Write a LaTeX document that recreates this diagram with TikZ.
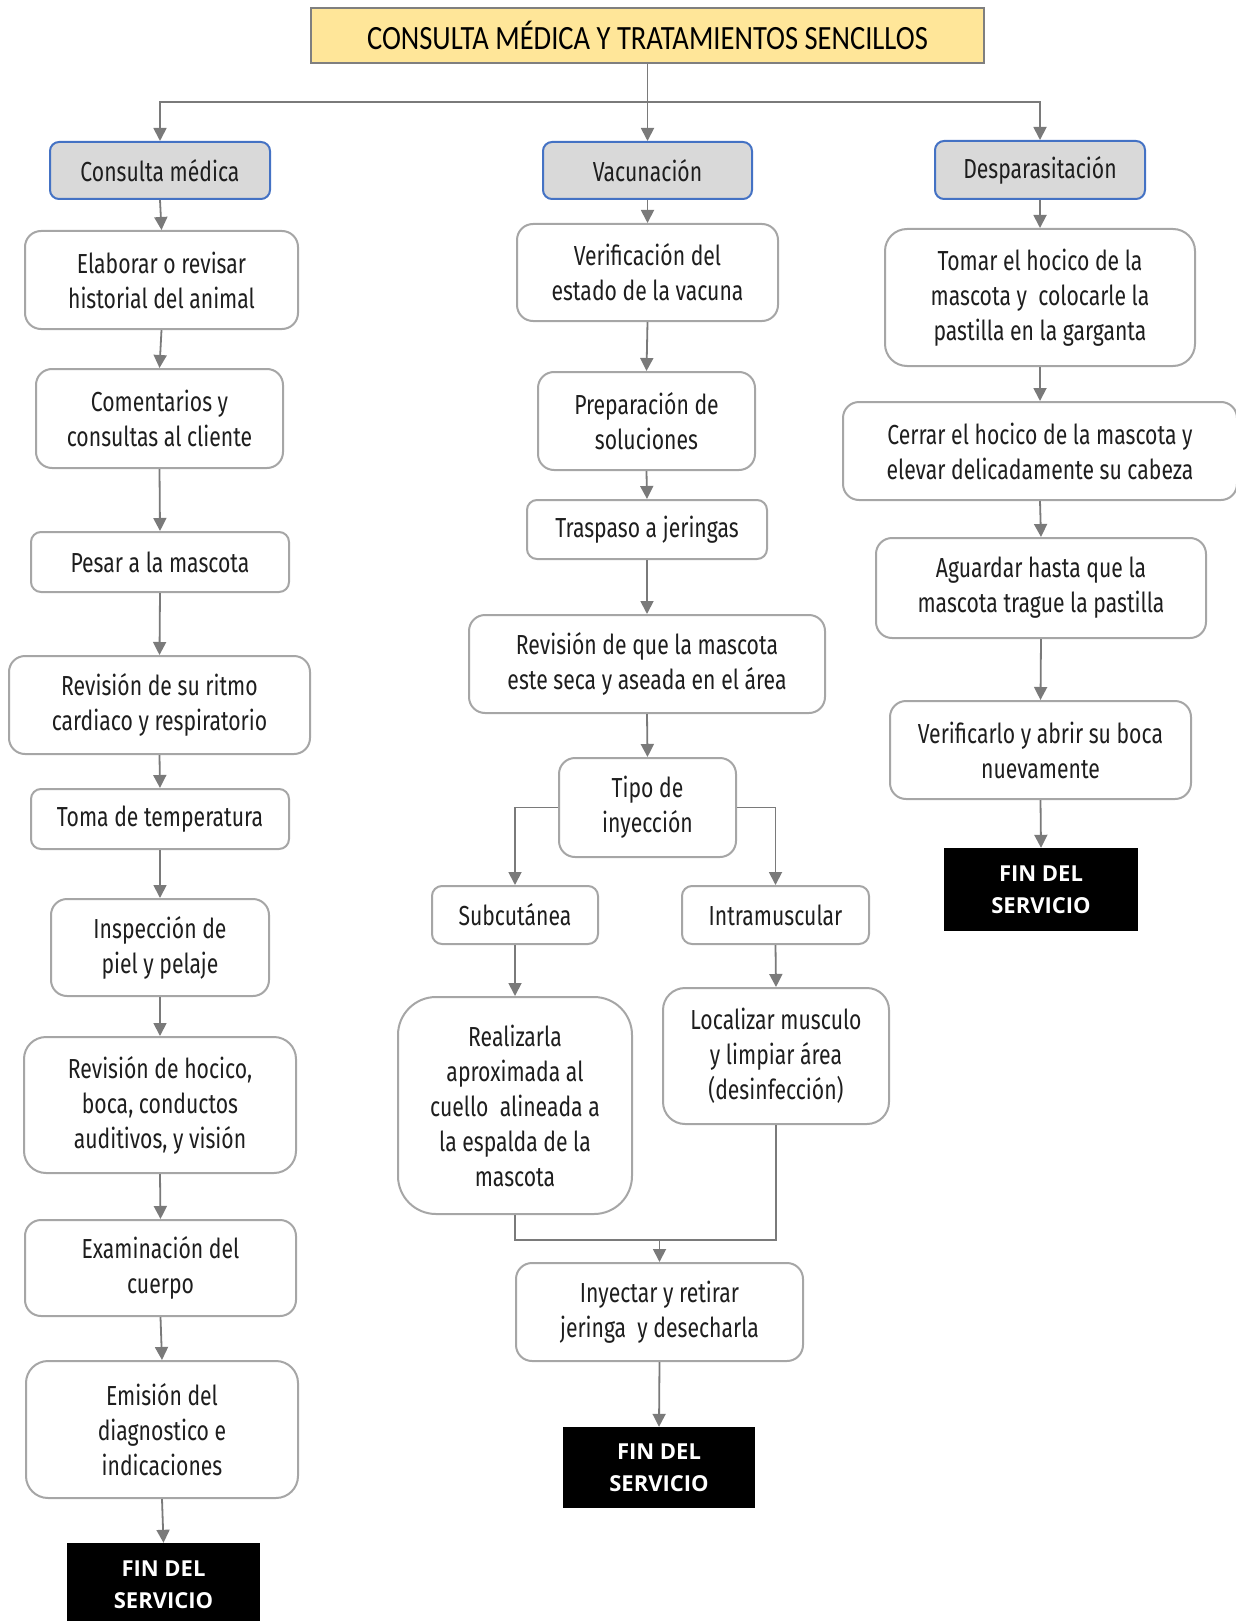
\documentclass[tikz,border=0pt]{standalone}
\usepackage{fontspec}
\setmainfont{Fira Sans}[FakeStretch=0.77]
\newfontfamily\titlefont{Carlito}[FakeStretch=0.84]
\newfontfamily\finfont{Open Sans}
\usetikzlibrary{arrows.meta}
\definecolor{boxline}{HTML}{A6A6A6}
\definecolor{hdrblue}{HTML}{4472C4}
\definecolor{hdrgray}{HTML}{D9D9D9}
\definecolor{titlefill}{HTML}{FFE699}
\definecolor{titleline}{HTML}{7F7F7F}
\definecolor{connc}{HTML}{7A7A7A}
\definecolor{txt}{HTML}{1E1E1E}
\tikzset{
  box/.style={draw=boxline, line width=2pt, rounded corners=#1, fill=white, align=center,
    inner sep=0pt, text=txt, font=\fontsize{27.5}{35}\selectfont},
  box/.default=16pt,
  hdr/.style={draw=hdrblue, line width=2pt, rounded corners=9pt, fill=hdrgray, align=center,
    inner sep=0pt, text=txt, font=\fontsize{27.5}{35}\selectfont},
  fin/.style={fill=black, align=center, inner sep=0pt, text=white,
    font=\finfont\bfseries\fontsize{22}{32}\selectfont},
  ttl/.style={fill=titlefill, draw=titleline, line width=2pt, align=center, inner sep=0pt,
    text=black, font=\titlefont\fontsize{34}{40}\selectfont},
  conn/.style={draw=connc, line width=1.8pt, -{Triangle[width=13pt,length=13pt]}},
  plain/.style={draw=connc, line width=1.8pt}
}
\begin{document}
\begin{tikzpicture}[x=1pt,y=-1pt]
\useasboundingbox (0,0) rectangle (1235,1621);
% title
\node[ttl, minimum width=673pt, minimum height=55pt] (T) at (647.5,35.5) {CONSULTA MÉDICA Y TRATAMIENTOS SENCILLOS};
% headers
\node[hdr, minimum width=220pt, minimum height=57pt] (H1) at (160,170.5) {Consulta médica};
\node[hdr, minimum width=209pt, minimum height=57pt] (H2) at (647.5,170.5) {Vacunación};
\node[hdr, minimum width=210pt, minimum height=58pt] (H3) at (1040,170) {Desparasitación};
% left column
\node[box, minimum width=273pt, minimum height=98pt] (L1) at (161.5,280) {Elaborar o revisar\\historial del animal};
\node[box, minimum width=247pt, minimum height=99pt] (L2) at (159.5,418.5) {Comentarios y\\consultas al cliente};
\node[box=10pt, minimum width=258pt, minimum height=60pt] (L3) at (160,562) {Pesar a la mascota};
\node[box, minimum width=301pt, minimum height=98pt] (L4) at (159.5,705) {Revisión de su ritmo\\cardiaco y respiratorio};
\node[box=10pt, minimum width=258pt, minimum height=60pt] (L5) at (160,819) {Toma de temperatura};
\node[box, minimum width=218pt, minimum height=97pt] (L6) at (160,947.5) {Inspección de\\piel y pelaje};
\node[box=22pt, minimum width=272pt, minimum height=136pt] (L7) at (160,1105) {Revisión de hocico,\\boca, conductos\\auditivos, y visión};
\node[box, minimum width=271pt, minimum height=96pt] (L8) at (160.5,1268) {Examinación del\\cuerpo};
\node[box=22pt, minimum width=272pt, minimum height=137pt] (L9) at (162,1429.5) {Emisión del\\diagnostico e\\indicaciones};
\node[fin, minimum width=193pt, minimum height=83pt] (LF) at (163.5,1584.5) {FIN DEL\\SERVICIO};
% center column
\node[box, minimum width=261pt, minimum height=97pt] (C1) at (647.5,272.5) {Verificación del\\estado de la vacuna};
\node[box, minimum width=217pt, minimum height=98pt] (C2) at (646.5,421) {Preparación de\\soluciones};
\node[box=10pt, minimum width=240pt, minimum height=59pt] (C3) at (647,529.5) {Traspaso a jeringas};
\node[box, minimum width=356pt, minimum height=98pt] (C4) at (647,664) {Revisión de que la mascota\\este seca y aseada en el área};
\node[box, minimum width=177pt, minimum height=99pt] (C5) at (647.5,807.5) {Tipo de\\inyección};
\node[box=10pt, minimum width=166pt, minimum height=58pt] (C6) at (515,915) {Subcutánea};
\node[box=10pt, minimum width=187pt, minimum height=58pt] (C7) at (775.5,915) {Intramuscular};
\node[box=38pt, minimum width=234pt, minimum height=217pt] (C8) at (515,1105.5) {Realizarla\\aproximada al\\cuello\ \ alineada a\\la espalda de la\\mascota};
\node[box=22pt, minimum width=226pt, minimum height=136pt] (C9) at (776,1056) {Localizar musculo\\y limpiar área\\(desinfección)};
\node[box, minimum width=287pt, minimum height=98pt] (C10) at (659.5,1312) {Inyectar y retirar\\jeringa\ \ y desecharla};
\node[fin, minimum width=192pt, minimum height=81pt] (CF) at (659,1467.5) {FIN DEL\\SERVICIO};
% right column
\node[box=22pt, minimum width=310pt, minimum height=137pt] (R1) at (1040,297.5) {Tomar el hocico de la\\mascota y\ \ colocarle la\\pastilla en la garganta};
\node[box, minimum width=394pt, minimum height=98pt] (R2) at (1040,451) {Cerrar el hocico de la mascota y\\elevar delicadamente su cabeza};
\node[box, minimum width=330pt, minimum height=100pt] (R3) at (1041,588) {Aguardar hasta que la\\mascota trague la pastilla};
\node[box, minimum width=301pt, minimum height=98pt] (R4) at (1040.5,750) {Verificarlo y abrir su boca\\nuevamente};
\node[fin, minimum width=194pt, minimum height=83pt] (RF) at (1041,889.5) {FIN DEL\\SERVICIO};
% trunk
\coordinate (bar) at (647.5,102);
\draw[conn] (T.south) -- (H2.north);
\draw[conn] (bar) -| (H1.north);
\draw[conn] (bar) -| (H3.north);
% left chain
\draw[conn] (H1.south) -- (L1.north);
\draw[conn] (L1.south) -- (L2.north);
\draw[conn] (L2.south) -- (L3.north);
\draw[conn] (L3.south) -- (L4.north);
\draw[conn] (L4.south) -- (L5.north);
\draw[conn] (L5.south) -- (L6.north);
\draw[conn] (L6.south) -- (L7.north);
\draw[conn] (L7.south) -- (L8.north);
\draw[conn] (L8.south) -- (L9.north);
\draw[conn] (L9.south) -- (LF.north);
% center chain
\draw[conn] (H2.south) -- (C1.north);
\draw[conn] (C1.south) -- (C2.north);
\draw[conn] (C2.south) -- (C3.north);
\draw[conn] (C3.south) -- (C4.north);
\draw[conn] (C4.south) -- (C5.north);
\draw[conn] (C5.west) -| (C6.north);
\draw[conn] (C5.east) -| (C7.north);
\draw[conn] (C6.south) -- (C8.north);
\draw[conn] (C7.south) -- (C9.north);
\coordinate (merge) at (659.5,1240);
\draw[plain] (C8.south) |- (merge);
\draw[plain] (C9.south) |- (merge);
\draw[conn] (merge) -- (C10.north);
\draw[conn] (C10.south) -- (CF.north);
% right chain
\draw[conn] (H3.south) -- (R1.north);
\draw[conn] (R1.south) -- (R2.north);
\draw[conn] (R2.south) -- (R3.north);
\draw[conn] (R3.south) -- (R4.north);
\draw[conn] (R4.south) -- (RF.north);
\end{tikzpicture}
\end{document}
